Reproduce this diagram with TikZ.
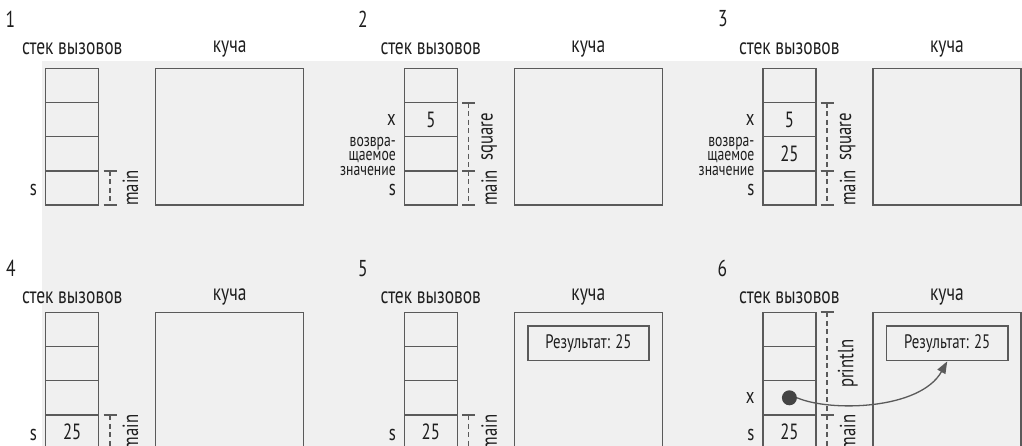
\documentclass[tikz,border=0pt]{standalone}
\usepackage{fontspec}
\setmainfont{PT Sans}[FakeStretch=0.76]
\usetikzlibrary{arrows.meta}
\definecolor{ln}{HTML}{5A5A5A}
\definecolor{tx}{HTML}{1E1E1E}
\definecolor{bgc}{HTML}{F0F0F0}
\definecolor{dotc}{HTML}{444444}
\tikzset{
  cell/.style={draw=ln, line width=1.5pt, minimum width=53pt, minimum height=34.2pt, inner sep=0pt, text=tx, font=\fontsize{22}{24}\selectfont},
  heap/.style={draw=ln, line width=1.5pt, minimum width=148pt, minimum height=136.8pt, inner sep=0pt},
  hdr/.style={text=tx, font=\fontsize{23}{24}\selectfont, inner sep=0pt},
  num/.style={text=tx, font=\fontsize{23}{24}\selectfont, inner sep=0pt},
  lbl/.style={text=tx, font=\fontsize{22}{22}\selectfont, inner sep=0pt, anchor=east},
  small/.style={text=tx, font=\fontsize{18}{14.8}\selectfont, inner sep=0pt, anchor=east, align=right},
  rlbl/.style={text=tx, font=\fontsize{22}{22}\selectfont, inner sep=0pt, rotate=90},
  brk/.style={draw=ln, line width=1.5pt, dash pattern=on 5pt off 3.5pt},
  tick/.style={draw=ln, line width=2pt},
  res/.style={draw=ln, line width=1.5pt, minimum width=121.3pt, minimum height=34.7pt, inner sep=0pt, text=tx, font=\fontsize{19.5}{22}\selectfont},
  dotn/.style={circle, fill=dotc, minimum size=15pt, inner sep=0pt},
  arr/.style={draw=ln, line width=1.3pt, -{Triangle[length=12pt,width=9pt]}}
}
\newcommand\drawpanel[8]{%
  \begin{scope}[shift={(#2,#3)}]
    \node[cell] (#1a) at (72.2,85.4) {#5};
    \node[cell] (#1b) at (72.2,119.6) {#6};
    \node[cell] (#1c) at (72.2,153.8) {#7};
    \node[cell] (#1d) at (72.2,188.0) {#8};
    \node[heap] (#1h) at (229.7,136.7) {};
    \node[hdr] (#1st) at (72.2,#4) {стек вызовов};
    \node[hdr] (#1ku) at (229.7,#4) {куча};
  \end{scope}}
% x, top, bottom, label name, label text
\newcommand\brkt[5]{%
  \draw[brk] (#1,#2) -- (#1,#3);
  \draw[tick] (#1-6.5,#2) -- (#1+6.5,#2);
  \draw[tick] (#1-6.5,#3) -- (#1+6.5,#3);
  \node[rlbl] (#4) at (#1+20.5,{(#2+#3)/2}) {#5};}
\begin{document}
\begin{tikzpicture}[x=1pt,y=-1pt]
\useasboundingbox (0,0) rectangle (1022,446);
\clip (0,0) rectangle (1022,446);
\fill[bgc] (42,61) rectangle (1022,446);
% row 1
\drawpanel{p1}{0}{0}{49.2}{}{}{}{}
\drawpanel{p2}{358.6}{0}{49.2}{}{5}{}{}
\drawpanel{p3}{717.2}{0}{49.2}{}{5}{25}{}
% row 2
\drawpanel{p4}{0}{244}{53.5}{}{}{}{25}
\drawpanel{p5}{358.6}{244}{53.5}{}{}{}{25}
\drawpanel{p6}{717.2}{244}{53.5}{}{}{}{25}
\node[dotn] (d6) at (p6c) {};
% panel numbers
\node[num] (n1) at (10.5,19) {1};
\node[num] (n2) at (363,19) {2};
\node[num] (n3) at (723,19) {3};
\node[num] (n4) at (11,268.5) {4};
\node[num] (n5) at (363,268.5) {5};
\node[num] (n6) at (722.5,268.5) {6};
% left labels
\node[lbl] (s1) at (37,190.5) {s};
\node[lbl] (x2) at (396,119.6) {x};
\node[small] (v2) at (396,156.5) {возвра-\\щаемое\\значение};
\node[lbl] (s2) at (396,190.5) {s};
\node[lbl] (x3) at (754.6,119.6) {x};
\node[small] (v3) at (754.6,156.5) {возвра-\\щаемое\\значение};
\node[lbl] (s3) at (754.6,190.5) {s};
\node[lbl] (s4) at (37,434.5) {s};
\node[lbl] (s5) at (396,434.5) {s};
\node[lbl] (x6) at (754.6,398) {x};
\node[lbl] (s6) at (754.6,434.5) {s};
% brackets
\brkt{110}{171}{205.1}{m1}{main}
\brkt{468.6}{102.7}{171}{q2}{square}
\brkt{468.6}{171}{205.1}{m2}{main}
\brkt{827.2}{102.7}{171}{q3}{square}
\brkt{827.2}{171}{205.1}{m3}{main}
\brkt{110}{415.3}{449.5}{m4}{main}
\brkt{468.6}{415.3}{449.5}{m5}{main}
\brkt{827.2}{312.3}{415.3}{pr6}{println}
\brkt{827.2}{415.3}{449.5}{m6}{main}
% heap objects
\node[res] (r5) at (588.4,343.3) {Результат: 25};
\node[res] (r6) at (947.2,343.3) {Результат: 25};
\draw[arr] (d6.east) .. controls (830,412) and (920,410) .. (r6.south);
\end{tikzpicture}
\end{document}
